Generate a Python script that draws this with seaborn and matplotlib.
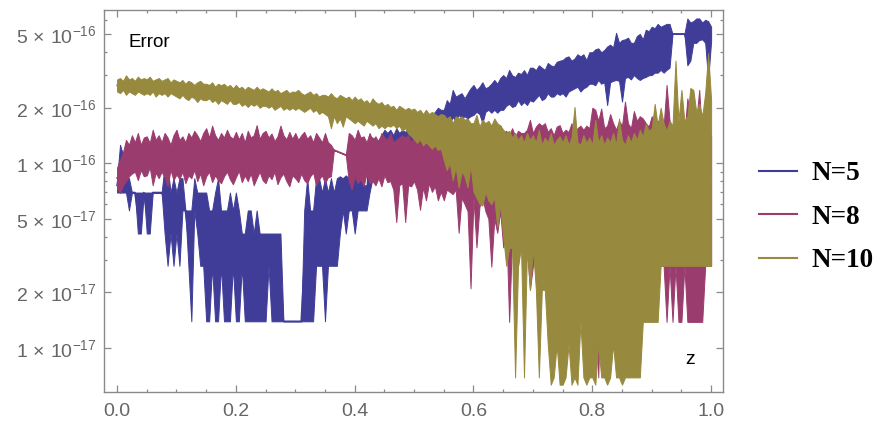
import numpy as np
import pandas as pd
import matplotlib
matplotlib.use("Agg")
import matplotlib.pyplot as plt
import seaborn as sns
from matplotlib.ticker import FixedLocator, FixedFormatter, NullFormatter
from matplotlib.lines import Line2D

# ---------------- data: error range (low / high) read per z-bin, in units of 1e-17 ----------------
UNIT = 1e-17

# N=5 : 201 bins on z in [0, 1]
n5_hi = [8.3, 12.6, 11.1, 8.5, 8.3, 6.94, 6.94, 6.94, 6.94, 6.94,
         6.94, 6.94, 6.94, 6.94, 6.94, 6.94, 9.7, 9.7, 6.94, 8.3,
         6.94, 8.3, 8.3, 5.55, 5.55, 5.55, 8.3, 6.94, 6.94, 6.94,
         6.94, 5.55, 5.55, 6.94, 8.3, 5.55, 5.55, 5.55, 6.94, 5.55,
         6.94, 5.55, 4.16, 4.16, 5.55, 5.55, 4.16, 5.55, 4.16, 4.16,
         4.16, 4.16, 4.16, 4.16, 4.16, 4.16, 1.39, 1.39, 1.39, 1.39,
         1.39, 1.39, 1.39, 5.55, 8.3, 5.55, 5.55, 8.3, 8.3, 6.94,
         8.3, 6.94, 8.3, 6.94, 8.3, 8.5, 8.3, 8.6, 8.3, 8.6,
         8.5, 8.3, 8.6, 7.6, 7.6, 13.8, 13.8, 12.6, 13.4, 14.2,
         15.2, 14.6, 15.2, 14.2, 15.5, 14.6, 15.2, 14.8, 15.5, 15.0,
         16.1, 17.2, 16.5, 17.5, 18.3, 17.2, 18.3, 19.0, 20.0, 19.5,
         19.5, 22.0, 21.0, 25.0, 23.0, 23.5, 24.0, 22.5, 24.0, 25.5,
         26.6, 25.0, 26.0, 27.5, 25.5, 26.0, 27.0, 28.3, 27.0, 29.0,
         30.1, 29.0, 32.1, 30.0, 29.4, 31.0, 30.5, 32.0, 30.1, 33.0,
         33.0, 32.0, 34.0, 33.0, 32.1, 35.0, 34.0, 33.5, 35.5, 36.0,
         36.3, 37.5, 38.0, 36.0, 37.0, 39.0, 38.0, 39.0, 36.3, 40.0,
         40.0, 41.5, 42.0, 40.0, 41.1, 43.0, 44.0, 42.5, 51.0, 45.0,
         46.6, 47.0, 48.0, 45.0, 45.0, 49.0, 50.3, 47.0, 53.0, 52.0,
         55.0, 54.0, 57.0, 55.0, 56.0, 57.0, 57.0, 50.3, 50.3, 50.3,
         50.3, 50.3, 61.0, 58.0, 59.0, 61.0, 61.0, 58.0, 60.0, 59.0, 55.0]
n5_lo = [6.94, 6.94, 6.94, 6.94, 5.55, 6.94, 6.94, 4.16, 4.16, 6.94,
         4.16, 4.16, 6.94, 6.94, 6.94, 6.94, 4.16, 2.78, 4.16, 2.78,
         4.16, 2.78, 5.55, 5.55, 2.78, 1.39, 5.55, 4.16, 2.78, 2.78,
         1.39, 1.39, 2.78, 1.39, 1.39, 2.78, 1.39, 1.39, 1.39, 2.78,
         1.39, 1.39, 2.78, 1.39, 1.39, 1.39, 1.39, 1.39, 1.39, 1.39,
         1.39, 2.78, 1.39, 1.39, 1.39, 1.39, 1.39, 1.39, 1.39, 1.39,
         1.39, 1.39, 1.39, 1.39, 1.39, 1.39, 1.39, 2.78, 2.78, 2.78,
         1.39, 2.78, 2.78, 2.78, 2.78, 4.16, 5.55, 4.16, 5.55, 5.55,
         4.16, 5.55, 5.55, 5.55, 5.55, 6.94, 8.3, 8.3, 9.7, 9.7,
         12.6, 12.9, 12.6, 13.0, 12.6, 12.9, 13.0, 12.6, 13.2, 12.6,
         13.8, 14.2, 14.6, 14.2, 15.2, 14.6, 15.2, 16.1, 15.8, 16.1,
         15.8, 17.2, 16.5, 17.8, 17.0, 18.3, 17.5, 18.0, 17.5, 18.0,
         18.3, 19.0, 18.5, 16.5, 19.0, 19.5, 18.8, 19.5, 18.8, 19.5,
         19.5, 20.5, 21.0, 20.2, 20.5, 22.0, 20.7, 21.5, 20.7, 22.0,
         21.6, 22.5, 23.5, 22.0, 22.5, 24.0, 23.0, 23.0, 24.0, 23.5,
         24.0, 23.0, 24.5, 25.0, 25.5, 26.0, 24.5, 25.5, 26.0, 27.0,
         27.0, 26.5, 28.3, 27.0, 27.5, 20.7, 27.5, 28.0, 28.3, 28.0,
         21.6, 29.0, 29.4, 28.5, 30.1, 29.0, 28.3, 29.0, 29.4, 30.0,
         30.1, 31.0, 31.0, 32.1, 31.0, 32.1, 33.0, 50.3, 50.3, 50.3,
         50.3, 50.3, 34.0, 36.0, 45.0, 45.0, 46.6, 47.0, 45.0, 28.3, 46.0]

# N=8 : two pieces, joined by a straight segment across the gap
n8_gap = (0.365, 0.385)
n8a_hi = [9.5, 10.4, 11.5, 13.4, 12.6, 14.2, 13.0, 14.6, 12.6, 13.8,
          14.0, 12.9, 15.2, 13.4, 14.2, 13.0, 14.6, 13.8, 12.6, 14.2,
          15.2, 13.4, 14.0, 13.0, 14.6, 13.8, 15.0, 14.2, 13.2, 14.6,
          15.5, 13.8, 16.0, 14.2, 13.4, 14.6, 13.8, 15.2, 14.0, 13.6,
          14.8, 13.5, 14.6, 13.0, 15.0, 13.8, 14.2, 16.1, 13.6, 14.6,
          15.0, 13.8, 14.5, 13.2, 14.0, 16.0, 14.2, 13.5, 14.8, 13.6,
          14.6, 13.4, 14.2, 14.8, 13.6, 14.2, 13.0, 14.6, 13.8, 13.0,
          14.6, 13.0, 12.6, 11.8]
n8a_lo = [7.3, 6.9, 7.6, 8.0, 8.5, 8.8, 9.0, 8.1, 9.2, 8.5,
          8.6, 9.5, 7.6, 8.9, 8.3, 9.0, 8.4, 7.5, 9.2, 8.1,
          8.7, 8.2, 9.0, 7.8, 8.6, 8.3, 9.2, 8.0, 8.8, 7.6,
          8.5, 9.0, 7.9, 8.6, 8.1, 7.8, 8.5, 9.0, 8.2, 7.7,
          8.4, 9.1, 7.9, 8.6, 8.0, 8.8, 7.6, 8.3, 9.0, 8.1,
          7.8, 8.6, 8.2, 9.0, 7.7, 8.4, 8.8, 8.0, 7.5, 8.6,
          8.3, 7.9, 8.8, 8.1, 7.8, 8.5, 8.9, 7.6, 8.2, 8.6,
          7.8, 8.4, 8.5, 11.8]
n8b_hi = [11.1, 14.6, 14.2, 13.4, 15.2, 13.8, 14.0, 13.0, 14.6, 13.4,
          14.0, 13.0, 14.6, 13.8, 13.4, 14.6, 13.0, 13.4, 13.8, 14.2,
          13.8, 14.2, 13.0, 14.0, 13.4, 14.6, 13.0, 14.0, 13.6, 13.4,
          13.4, 14.6, 13.8, 15.2, 13.8, 15.5, 14.0, 14.6, 15.2, 14.2,
          14.6, 15.2, 14.2, 15.8, 14.6, 15.2, 14.0, 15.8, 14.6, 15.2,
          15.2, 14.0, 16.1, 14.6, 15.0, 14.2, 15.5, 14.0, 15.0, 14.6,
          14.6, 15.2, 17.2, 14.6, 15.8, 16.5, 16.0, 16.5, 14.8, 15.5,
          14.2, 15.8, 16.1, 14.6, 15.2, 14.8, 16.5, 14.2, 15.5, 16.0,
          15.2, 16.0, 15.5, 20.0, 19.5, 17.0, 19.8, 15.5, 16.0, 18.5,
          16.5, 15.2, 17.0, 16.0, 21.6, 16.5, 15.5, 19.2, 17.0, 18.0,
          17.5, 16.5, 15.8, 18.0, 16.2, 17.0, 16.5, 15.8, 26.6, 17.0,
          15.5, 17.0, 16.0, 16.5, 14.2, 22.5, 18.0, 16.0, 17.0, 25.0,
          13.0, 18.0, 16.0, 14.0]
n8b_lo = [11.1, 8.0, 7.2, 8.5, 7.8, 8.2, 7.5, 8.8, 7.8, 8.0,
          7.6, 8.3, 7.5, 8.6, 7.9, 8.0, 7.2, 4.8, 7.6, 7.8,
          4.8, 7.6, 7.5, 8.0, 7.2, 5.6, 7.4, 6.3, 7.8, 7.0,
          7.5, 6.3, 7.0, 6.3, 7.2, 7.0, 6.8, 7.2, 4.2, 6.5,
          6.0, 5.5, 2.1, 6.5, 3.5, 5.8, 6.5, 5.5, 5.0, 2.75,
          5.0, 4.2, 5.5, 3.5, 4.8, 1.38, 4.0, 3.0, 2.78, 4.5,
          2.78, 3.47, 2.06, 2.78, 3.47, 1.03, 2.78, 3.0, 2.06, 2.78,
          3.47, 0.95, 2.78, 2.06, 3.47, 2.78, 2.06, 3.0, 2.78, 2.06,
          2.78, 2.06, 3.47, 2.78, 2.06, 0.69, 2.78, 2.06, 3.47, 2.06,
          2.78, 2.06, 2.78, 1.38, 2.78, 2.06, 1.38, 2.78, 2.06, 1.38,
          2.78, 2.78, 1.38, 2.78, 2.78, 2.78, 2.78, 2.78, 1.38, 2.78,
          1.38, 2.78, 1.38, 1.38, 2.78, 1.38, 1.38, 1.38, 1.38, 1.38,
          1.38, 2.78, 2.78, 2.78]

# N=10 : 201 bins on z in [0, 1]
n10_hi = [28.5, 29.0, 28.0, 30.0, 28.5, 29.0, 28.0, 29.5, 28.5, 29.0,
          28.5, 29.5, 28.0, 28.5, 29.0, 28.0, 28.5, 29.0, 27.5, 28.5,
          28.0, 27.5, 28.3, 27.0, 28.0, 27.5, 26.6, 27.5, 28.0, 27.0,
          27.0, 26.6, 27.5, 26.0, 27.0, 26.5, 27.0, 26.0, 26.6, 25.5,
          26.6, 25.5, 26.0, 25.0, 26.0, 25.5, 25.0, 26.0, 25.0, 25.5,
          25.0, 24.5, 25.5, 24.5, 25.0, 24.0, 24.5, 25.0, 24.0, 24.5,
          24.4, 25.0, 24.0, 23.5, 24.0, 24.5, 23.5, 24.0, 23.0, 23.5,
          23.5, 23.0, 24.0, 23.0, 22.5, 23.5, 23.0, 22.5, 23.0, 22.0,
          23.0, 22.0, 22.5, 21.5, 22.0, 21.0, 22.5, 21.5, 21.0, 21.5,
          20.5, 21.0, 20.2, 20.5, 19.5, 20.5, 20.0, 19.5, 20.0, 19.5,
          19.8, 19.0, 19.5, 18.5, 19.5, 18.5, 19.0, 18.5, 18.0, 18.5,
          18.3, 17.5, 18.0, 16.5, 18.0, 17.5, 18.0, 17.2, 17.5, 16.5,
          16.5, 18.3, 15.8, 17.2, 16.5, 17.0, 16.0, 17.5, 16.5, 16.0,
          15.2, 14.6, 15.0, 13.8, 14.6, 13.4, 14.2, 13.0, 14.6, 13.4,
          14.2, 13.0, 15.2, 12.6, 13.8, 13.0, 14.6, 12.6, 13.4, 14.0,
          13.0, 14.2, 12.6, 13.8, 20.2, 13.0, 12.6, 14.2, 12.9, 13.8,
          12.6, 17.2, 13.0, 14.2, 12.6, 13.8, 13.0, 14.6, 12.6, 17.5,
          13.4, 12.6, 14.2, 13.0, 14.6, 13.4, 15.2, 14.0, 16.5, 15.0,
          15.5, 21.0, 16.0, 20.0, 16.5, 15.0, 17.0, 16.0, 36.0, 17.0,
          25.0, 17.0, 18.0, 25.6, 25.0, 19.0, 21.0, 18.0, 24.0, 39.6, 22.0]
n10_lo = [24.5, 24.0, 25.0, 23.5, 24.5, 24.0, 23.5, 24.5, 24.0, 23.5,
          24.0, 23.5, 24.5, 23.0, 24.0, 23.5, 24.0, 23.0, 24.0, 23.5,
          23.0, 22.5, 23.5, 22.5, 22.0, 23.0, 22.5, 21.5, 22.5, 22.0,
          22.0, 22.5, 21.5, 22.0, 21.0, 22.0, 21.5, 21.0, 22.0, 21.0,
          21.0, 21.5, 20.5, 21.0, 20.2, 21.0, 20.5, 21.0, 20.0, 20.5,
          20.5, 20.0, 20.5, 19.5, 20.0, 20.5, 19.5, 20.0, 19.5, 20.0,
          19.5, 20.0, 19.5, 19.0, 19.5, 20.0, 19.0, 19.5, 18.5, 19.0,
          18.5, 18.0, 15.5, 18.0, 16.5, 17.5, 15.8, 18.0, 17.5, 17.0,
          16.5, 17.0, 16.5, 16.0, 17.0, 16.5, 16.0, 16.5, 15.5, 16.0,
          15.5, 16.0, 15.8, 16.2, 15.5, 16.0, 15.0, 15.5, 14.5, 14.0,
          13.5, 12.9, 13.5, 12.5, 13.0, 12.5, 12.0, 12.5, 11.8, 12.0,
          10.4, 9.2, 10.0, 8.1, 9.5, 7.4, 9.0, 8.5, 7.4, 9.8,
          7.0, 6.5, 6.0, 5.9, 7.0, 6.3, 6.0, 6.5, 4.5, 6.0,
          4.0, 2.78, 3.47, 3.47, 0.69, 2.78, 3.47, 0.69, 3.47, 2.06,
          3.47, 2.06, 0.69, 2.06, 2.06, 1.04, 0.63, 0.69, 1.04, 0.63,
          0.63, 0.69, 1.04, 0.63, 0.69, 0.63, 1.38, 0.69, 0.63, 0.69,
          0.69, 0.63, 1.04, 0.69, 0.69, 0.63, 0.69, 1.04, 0.69, 0.69,
          0.63, 0.69, 0.69, 0.69, 0.69, 0.69, 0.69, 1.38, 1.38, 1.38,
          1.38, 1.38, 1.38, 2.78, 2.78, 2.78, 2.78, 2.78, 2.78, 2.78,
          2.78, 2.78, 2.78, 2.78, 2.78, 2.78, 2.78, 2.78, 2.78, 2.78, 2.78]

labels = ["N=5", "N=8", "N=10"]
colors = ["#403D99", "#9B3C6E", "#978A3E"]

x_major = [0.0, 0.2, 0.4, 0.6, 0.8, 1.0]
x_major_labels = ["0.0", "0.2", "0.4", "0.6", "0.8", "1.0"]
x_minor = [0.05, 0.1, 0.15, 0.25, 0.3, 0.35, 0.45, 0.5, 0.55, 0.65, 0.7,
           0.75, 0.85, 0.9, 0.95]
y_major = [1e-17, 2e-17, 5e-17, 1e-16, 2e-16, 5e-16]
y_major_labels = [r"$\mathregular{1\,\times\,10^{-17}}$", r"$\mathregular{2\,\times\,10^{-17}}$",
                  r"$\mathregular{5\,\times\,10^{-17}}$", r"$\mathregular{1\,\times\,10^{-16}}$",
                  r"$\mathregular{2\,\times\,10^{-16}}$", r"$\mathregular{5\,\times\,10^{-16}}$"]
y_minor = [3e-17, 4e-17, 6e-17, 7e-17, 8e-17, 9e-17, 3e-16, 4e-16, 6e-16]

# ---------------- long-form table ----------------
z5 = np.linspace(0.0, 1.0, len(n5_hi))
z10 = np.linspace(0.0, 1.0, len(n10_hi))
z8 = np.concatenate([np.linspace(0.0, n8_gap[0], len(n8a_hi)),
                     np.linspace(n8_gap[1], 1.0, len(n8b_hi))])


def long_form(z, lo, hi, name):
    return pd.DataFrame({"z": np.concatenate([z, z]),
                         "err": np.concatenate([np.asarray(lo), np.asarray(hi)]) * UNIT,
                         "series": name})


df = pd.concat([
    long_form(z5, n5_lo, n5_hi, labels[0]),
    long_form(z8, n8a_lo + n8b_lo, n8a_hi + n8b_hi, labels[1]),
    long_form(z10, n10_lo, n10_hi, labels[2]),
], ignore_index=True)

# ---------------- figure ----------------
plt.rcParams["font.family"] = ["Liberation Sans", "DejaVu Sans"]
plt.rcParams["mathtext.fontset"] = "custom"
plt.rcParams["mathtext.rm"] = "Liberation Sans"
plt.rcParams["mathtext.it"] = "Liberation Sans:italic"

fig = plt.figure(figsize=(8.76, 4.21), dpi=100)
ax = fig.add_axes([104 / 876, 29 / 421, 619 / 876, 382 / 421])
ax.set_yscale("log")

sns.lineplot(data=df, x="z", y="err", hue="series", hue_order=labels,
             palette=colors, estimator="median", errorbar=("pi", 100),
             err_kws={"alpha": 1.0, "linewidth": 0.7}, lw=1.2,
             legend=False, ax=ax)
# stack each series (band + its line) above the previous one, like the reference
for i, (line, coll) in enumerate(zip(ax.lines, ax.collections)):
    coll.set_edgecolor(coll.get_facecolor())
    coll.set_zorder(2 + 2 * i)
    line.set_zorder(2 + 2 * i + 1)

ax.set_xlim(-0.022, 1.020)
ax.set_ylim(5.75e-18, 6.78e-16)
ax.set_xlabel("")
ax.set_ylabel("")

frame_col = "#8a8a8a"
for s in ax.spines.values():
    s.set_visible(True)
    s.set_color(frame_col)
    s.set_linewidth(1.0)
    s.set_zorder(20)

ax.xaxis.set_major_locator(FixedLocator(x_major))
ax.xaxis.set_major_formatter(FixedFormatter(x_major_labels))
ax.xaxis.set_minor_locator(FixedLocator(x_minor))
ax.xaxis.set_minor_formatter(NullFormatter())
ax.yaxis.set_major_locator(FixedLocator(y_major))
ax.yaxis.set_major_formatter(FixedFormatter(y_major_labels))
ax.yaxis.set_minor_locator(FixedLocator(y_minor))
ax.yaxis.set_minor_formatter(NullFormatter())

ax.tick_params(which="both", direction="in", top=True, right=True,
               color=frame_col, width=0.9, labelcolor="#666666", labelsize=14)
ax.tick_params(which="major", length=5)
ax.tick_params(which="minor", length=2.5)
ax.tick_params(axis="x", pad=8)
ax.tick_params(axis="y", pad=5)

ax.text(0.039, 0.914, "Error", transform=ax.transAxes, fontsize=13.5,
        color="black", ha="left", va="center", zorder=30)
ax.text(0.947, 0.084, "z", transform=ax.transAxes, fontsize=14,
        color="black", ha="center", va="center", zorder=30)

handles = [Line2D([0], [0], color=c, lw=1.5) for c in colors]
fig.legend(handles, labels, loc="center left", bbox_to_anchor=(759 / 876, 0.484),
           frameon=False, borderpad=0, borderaxespad=0, handlelength=1.4,
           handletextpad=0.52, labelspacing=0.68,
           prop={"family": "Liberation Serif", "weight": "bold", "size": 19.5})

fig.savefig("out.png", dpi=100)
